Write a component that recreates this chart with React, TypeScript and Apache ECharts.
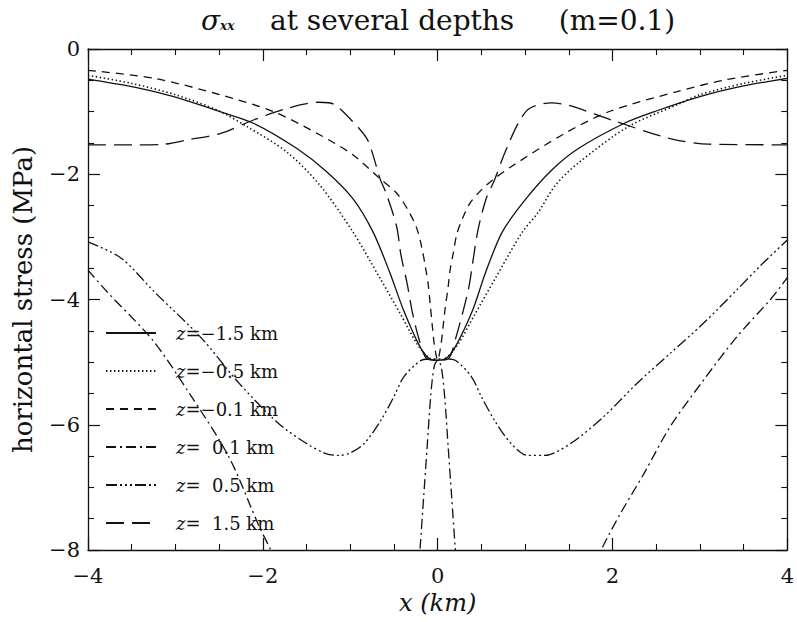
import React, { useEffect, useRef } from 'react';
import * as echarts from 'echarts';

// ---- data (x in km, stress in MPa) ----
const seriesNames = ['z=-1.5 km', 'z=-0.5 km', 'z=-0.1 km', 'z=  0.1 km', 'z=  0.5 km', 'z=  1.5 km'];

const zMinus15: (number | string)[][] = [
  [-4, -0.48], [-3.5, -0.6], [-3.24, -0.68], [-3, -0.77], [-2.49, -1.0], [-2.1, -1.19], [-1.61, -1.59],
  [-1.27, -1.96], [-0.97, -2.39], [-0.74, -2.92], [-0.55, -3.56], [-0.39, -4.17], [-0.2, -4.76],
  [-0.09, -4.95], [0, -4.97], [0.09, -4.95], [0.2, -4.76], [0.4, -4.17], [0.55, -3.56], [0.74, -2.92],
  [1.0, -2.41], [1.3, -1.94], [1.61, -1.59], [2.13, -1.19], [2.5, -0.99], [3, -0.76], [3.5, -0.59], [4, -0.47],
];

const zMinus05: (number | string)[][] = [
  [-4, -0.42], [-3.5, -0.55], [-3, -0.73], [-2.5, -0.99], [-2.18, -1.24], [-1.73, -1.64], [-1.35, -2.17],
  [-0.97, -2.92], [-0.66, -3.66], [-0.43, -4.22], [-0.24, -4.7], [-0.1, -4.93], [0, -4.97], [0.1, -4.93],
  [0.24, -4.7], [0.42, -4.25], [0.66, -3.66], [0.97, -2.92], [1.145, -2.62], [1.35, -2.17], [1.6, -1.83],
  [2.18, -1.24], [2.74, -0.89], [3, -0.73], [3.5, -0.55], [4, -0.42],
];

const zMinus01: (number | string)[][] = [
  [-4, -0.34], [-3.24, -0.47], [-2.49, -0.73], [-1.88, -1.0], [-1.35, -1.37], [-0.97, -1.69], [-0.66, -2.07],
  [-0.47, -2.3], [-0.34, -2.57], [-0.24, -2.86], [-0.18, -3.18], [-0.14, -3.48], [-0.11, -3.74],
  [-0.085, -4.08], [-0.06, -4.44], [-0.04, -4.7], [0, -4.97], [0.04, -4.7], [0.06, -4.46], [0.085, -4.15],
  [0.12, -3.8], [0.14, -3.55], [0.18, -3.25], [0.22, -2.95], [0.28, -2.72], [0.37, -2.46], [0.5, -2.25],
  [0.63, -2.09], [0.84, -1.88], [1.45, -1.35], [1.98, -0.99], [2.74, -0.68], [3.3, -0.49], [4, -0.34],
];

const zPlus01: (number | string)[][] = [
  [-4, -3.53], [-3.78, -3.88], [-3.26, -4.65], [-2.84, -5.5], [-2.39, -6.51], [-2.04, -7.63], [-1.91, -8.0],
  [-1.84, -8.25], [-1, '-'], [-0.22, -8.3], [-0.2, -7.95], [-0.16, -7.15], [-0.12, -6.35], [-0.08, -5.55],
  [-0.04, -5.07], [0, -4.97], [0.04, -5.07], [0.08, -5.55], [0.12, -6.35], [0.16, -7.15], [0.2, -7.95],
  [0.22, -8.3], [1, '-'], [1.8, -8.25], [1.87, -8.0], [2.09, -7.42], [2.36, -6.78], [2.66, -6.03],
  [3.04, -5.29], [3.42, -4.6], [3.8, -4.01], [3.92, -3.8], [4, -3.65],
];

const zPlus05: (number | string)[][] = [
  [-4, -3.08], [-3.62, -3.34], [-3.24, -3.88], [-2.7, -4.62], [-2.27, -5.34], [-1.82, -5.98], [-1.5, -6.3],
  [-1.28, -6.46], [-1.13, -6.49], [-1.0, -6.45], [-0.84, -6.3], [-0.65, -5.93], [-0.5, -5.55],
  [-0.385, -5.23], [-0.2, -4.98], [-0.1, -4.95], [0, -4.95], [0.1, -4.95], [0.2, -4.97], [0.385, -5.23],
  [0.5, -5.55], [0.65, -5.93], [0.84, -6.3], [1.03, -6.49], [1.22, -6.49], [1.52, -6.3], [1.9, -5.87],
  [2.28, -5.34], [2.66, -4.86], [3.04, -4.38], [3.42, -3.85], [3.7, -3.45], [4, -3.05],
];

const zPlus15: (number | string)[][] = [
  [-4, -1.53], [-3.43, -1.53], [-3.13, -1.52], [-2.86, -1.45], [-2.49, -1.35], [-2.1, -1.13], [-1.73, -0.95],
  [-1.35, -0.85], [-1.19, -0.88], [-0.97, -1.16], [-0.81, -1.43], [-0.74, -1.69], [-0.66, -2.07],
  [-0.59, -2.3], [-0.47, -2.83], [-0.42, -3.29], [-0.35, -3.74], [-0.29, -4.2], [-0.21, -4.65],
  [-0.12, -4.95], [0, -4.97], [0.12, -4.95], [0.21, -4.6], [0.35, -3.85], [0.4, -3.42], [0.46, -2.9],
  [0.55, -2.41], [0.65, -2.09], [0.765, -1.67], [0.92, -1.19], [1.05, -0.95], [1.3, -0.86], [1.5, -0.9],
  [1.98, -1.13], [2.66, -1.43], [3.1, -1.52], [4, -1.53],
];

const seriesData = [zMinus15, zMinus05, zMinus01, zPlus01, zPlus05, zPlus15];
const dashPatterns: (string | number[])[] = [
  'solid',
  [1.4, 2.6],
  [8, 6],
  [10, 4, 2, 4],
  [11, 3, 2, 3, 2, 3, 2, 3],
  [18, 8],
];

const xTicks = { min: -4, max: 4, interval: 2 };
const yTicks = { min: -8, max: 0, interval: 2 };

const FONT = 'DejaVu Serif';
const INK = '#111';

const fmtMinus = (v: number) => String(v).replace('-', '\u2212');

export default function App() {
  const ref = useRef<HTMLDivElement>(null);

  useEffect(() => {
    if (!ref.current) return;
    const chart = echarts.init(ref.current, undefined, { renderer: 'svg' });

    const axisLine = { show: true, onZero: false, lineStyle: { color: INK, width: 1.3 } };
    const axisTick = { show: true, inside: true, length: 12, lineStyle: { color: INK, width: 1.2 } };
    const minorTick = { show: true, splitNumber: 4, length: 6, lineStyle: { color: INK, width: 1.1 } };
    const axisLabel = { fontFamily: FONT, fontSize: 21, color: INK, formatter: fmtMinus };

    const option = {
      animation: false,
      backgroundColor: '#ffffff',
      title: {
        text: '{s|\u03c3}{b|xx}{t|    at several depths     (m=0.1)}',
        left: 196,
        top: 1,
        textStyle: {
          fontWeight: 'normal',
          rich: {
            s: { fontFamily: FONT, fontSize: 28, fontStyle: 'italic', fontWeight: 'normal', color: INK },
            b: { fontFamily: FONT, fontSize: 12, fontStyle: 'italic', fontWeight: 'bold', color: INK, padding: [12, 0, 0, 0] },
            t: { fontFamily: FONT, fontSize: 28, fontWeight: 'normal', color: INK },
          },
        },
      },
      grid: { left: 88, top: 49, width: 703, height: 501 },
      legend: {
        left: 105,
        top: 324,
        padding: 0,
        orient: 'vertical',
        itemWidth: 50,
        itemHeight: 14,
        itemGap: 20,
        itemStyle: { color: 'transparent', borderColor: 'transparent', borderWidth: 0, opacity: 0 },
        formatter: (name: string) => '{i|z}{n|' + name.slice(1).replace('-', '\u2212') + '}',
        textStyle: {
          padding: [0, 0, 0, 15],
          lineHeight: 18,
          rich: {
            i: { fontFamily: FONT, fontSize: 18, fontStyle: 'italic', color: INK, lineHeight: 18 },
            n: { fontFamily: FONT, fontSize: 18, color: INK, lineHeight: 18 },
          },
        },
        data: seriesNames,
      },
      xAxis: [
        {
          type: 'value',
          ...xTicks,
          position: 'bottom',
          name: 'x (km)',
          nameLocation: 'middle',
          nameGap: 40,
          nameTextStyle: { fontFamily: FONT, fontSize: 24, fontStyle: 'italic', color: INK },
          axisLine,
          axisTick,
          minorTick,
          splitLine: { show: false },
          axisLabel: { ...axisLabel, margin: 15 },
        },
        {
          type: 'value',
          ...xTicks,
          position: 'top',
          axisLine,
          axisTick,
          minorTick,
          splitLine: { show: false },
          axisLabel: { show: false },
        },
      ],
      yAxis: [
        {
          type: 'value',
          ...yTicks,
          position: 'left',
          name: 'horizontal stress (MPa)',
          nameLocation: 'middle',
          nameGap: 52,
          nameTextStyle: { fontFamily: FONT, fontSize: 26, color: INK },
          axisLine,
          axisTick,
          minorTick,
          splitLine: { show: false },
          axisLabel: { ...axisLabel, margin: 8 },
        },
        {
          type: 'value',
          ...yTicks,
          position: 'right',
          axisLine,
          axisTick,
          minorTick,
          splitLine: { show: false },
          axisLabel: { show: false },
        },
      ],
      series: seriesNames.map((name, i) => ({
        name,
        type: 'line',
        xAxisIndex: 0,
        yAxisIndex: 0,
        data: seriesData[i],
        symbol: 'none',
        smooth: 0.3,
        clip: true,
        connectNulls: false,
        color: INK,
        lineStyle: { color: INK, width: i === 1 ? 1.6 : 1.3, type: dashPatterns[i] },
      })),
    };

    chart.setOption(option as any);
    return () => chart.dispose();
  }, []);

  return <div ref={ref} style={{ width: 797, height: 622, position: 'absolute', left: 0, top: 0 }} />;
}
